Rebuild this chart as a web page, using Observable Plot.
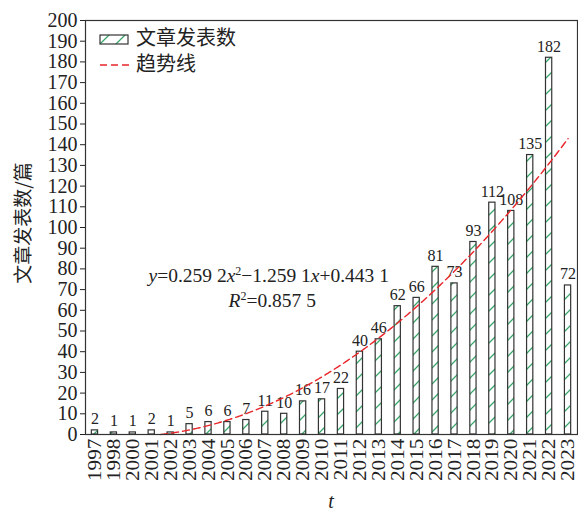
<!DOCTYPE html>
<html>
<head>
<meta charset="utf-8">
<script src="https://cdn.jsdelivr.net/npm/d3@7"></script>
<script src="https://cdn.jsdelivr.net/npm/@observablehq/plot@0.6"></script>
<style>
  html, body { margin: 0; padding: 0; background: white; }
</style>
</head>
<body>
<div id="chart"></div>
<script>
const years = ["1997","1998","2000","2001","2002","2003","2004","2005","2006","2007","2008","2009","2010","2011","2012","2013","2014","2015","2016","2017","2018","2019","2020","2021","2022","2023"];
const counts = [2,1,1,2,1,5,6,6,7,11,10,16,17,22,40,46,62,66,81,73,93,112,108,135,182,72];
const trendCoeffs = [0.2592, -1.2591, 0.4431]; // y = a x^2 + b x + c
const yTicks = [0,10,20,30,40,50,60,70,80,90,100,110,120,130,140,150,160,170,180,190,200];
const legendLabels = ["文章发表数", "趋势线"];
const yTitle = "文章发表数/篇";
const xTitle = "t";
const eqLine1 = [["y",1],["=0.259 2",0],["x",1],["2",2],["−1.259 1",0],["x",1],["+0.443 1",0]];
const eqLine2 = [["R",1],["2",2],["=0.857 5",0]];

const table = years.map((y, k) => ({i: k + 1, year: y, n: counts[k]}));
const [a, b, c] = trendCoeffs;
const root = (-b + Math.sqrt(b*b - 4*a*c)) / (2*a);
const trend = [];
for (let t = root; t <= table.length + 1e-9; t += 0.05) trend.push({t, v: a*t*t + b*t + c});
trend.push({t: table.length, v: a*table.length**2 + b*table.length + c});

const eq1Text = eqLine1.map(s => s[0]).join("");
const eq2Text = eqLine2.map(s => s[0]).join("");

const W = 0.165;
const plot = Plot.plot({
  width: 578,
  height: 512,
  marginLeft: 85,
  marginRight: 1,
  marginTop: 20,
  marginBottom: 78,
  style: {fontFamily: "'Liberation Serif', 'Noto Sans CJK SC', serif", fontSize: "19px", color: "#222", background: "white"},
  x: {type: "linear", domain: [0.5, table.length + 0.5]},
  y: {domain: [0, 200]},
  marks: [
    Plot.rectY(table, {x1: d => d.i - W, x2: d => d.i + W, y: "n", fill: "url(#hatch)", stroke: "#333", strokeWidth: 1.2}),
    Plot.text(table, {x: "i", y: "n", text: d => String(d.n), lineAnchor: "bottom", dy: -6, fontSize: 16, fill: "#222"}),
    Plot.line(trend, {x: "t", y: "v", stroke: "#e8262a", strokeWidth: 1.4, strokeDasharray: "7,4"}),
    Plot.axisX({ticks: table.map(d => d.i), tickFormat: i => years[i - 1], tickRotate: -90, tickSize: 0, tickPadding: 4, fontSize: 19, label: null}),
    Plot.axisY({ticks: yTicks, tickSize: 5, tickPadding: 3, fontSize: 20, label: null}),
    Plot.frame({stroke: "#333", strokeWidth: 1.2}),
    Plot.text([eq1Text], {x: 3.83, y: 76.5, text: d => d, textAnchor: "start", fontSize: 19.5}),
    Plot.text([eq2Text], {x: 8.06, y: 64.7, text: d => d, textAnchor: "start", fontSize: 19.5})
  ]
});

const svg = d3.select(plot);
svg.insert("defs", ":first-child").html(
  `<pattern id="hatch" patternUnits="userSpaceOnUse" width="16" height="16">
     <rect width="16" height="16" fill="white"/>
     <path d="M-2,2 L2,-2 M0,16 L16,0 M14,18 L18,14" stroke="#3aa76d" stroke-width="1.3"/>
   </pattern>`);

// stretch rotated year labels along their length
svg.selectAll('g[aria-label="x-axis tick label"] text').each(function() {
  const tr = this.getAttribute("transform") || "";
  this.setAttribute("transform", tr + " scale(1.12,1)");
});

function richify(str, segs) {
  const t = svg.selectAll("text").filter(function() { return this.textContent === str; });
  t.text(null);
  let shifted = false;
  segs.forEach(([s, k]) => {
    const sp = t.append("tspan").text(s);
    if (k === 1) sp.attr("font-style", "italic");
    if (k === 2) { sp.attr("font-size", 12).attr("dy", -7); shifted = true; }
    else if (shifted) { sp.attr("dy", 7); shifted = false; }
  });
}
richify(eq1Text, eqLine1);
richify(eq2Text, eqLine2);

// axis titles
svg.append("text")
  .attr("transform", "translate(25,223) rotate(-90)")
  .attr("text-anchor", "middle").attr("dominant-baseline", "middle")
  .attr("font-family", "'Noto Sans CJK SC', sans-serif").attr("font-size", 19).attr("fill", "#222")
  .text(yTitle);
svg.append("text")
  .attr("x", 331).attr("y", 503)
  .attr("text-anchor", "middle").attr("dominant-baseline", "middle")
  .attr("font-style", "italic").attr("font-size", 20).attr("fill", "#222")
  .text(xTitle);

// legend
const lg = svg.append("g").attr("font-family", "'Noto Sans CJK SC', sans-serif").attr("font-size", 20).attr("fill", "#222").attr("text-anchor", "start");
lg.append("rect").attr("x", 100).attr("y", 35).attr("width", 28).attr("height", 9).attr("fill", "url(#hatch)").attr("stroke", "#333").attr("stroke-width", 1.2);
lg.append("text").attr("x", 136).attr("y", 40).attr("dominant-baseline", "middle").text(legendLabels[0]);
lg.append("line").attr("x1", 100).attr("x2", 129).attr("y1", 65).attr("y2", 65).attr("stroke", "#e8262a").attr("stroke-width", 1.4).attr("stroke-dasharray", "7,4");
lg.append("text").attr("x", 136).attr("y", 66).attr("dominant-baseline", "middle").text(legendLabels[1]);

document.getElementById("chart").appendChild(plot);
</script>
</body>
</html>
